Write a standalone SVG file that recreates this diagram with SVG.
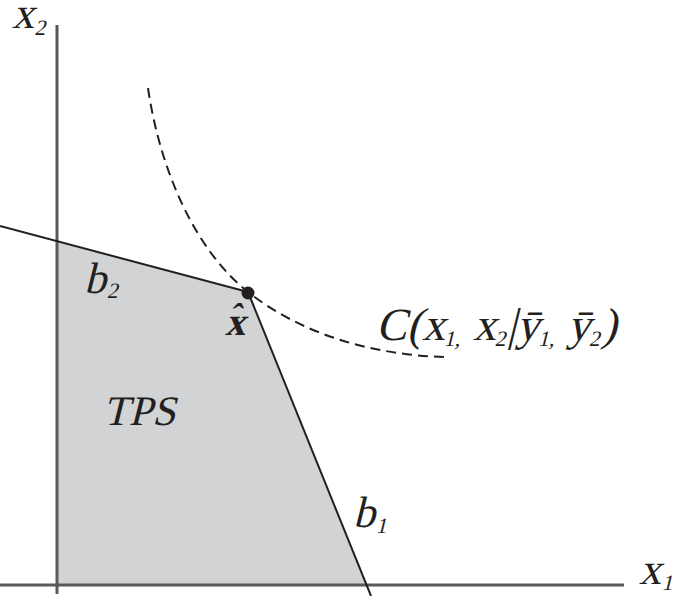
<svg xmlns="http://www.w3.org/2000/svg" width="674" height="596" viewBox="0 0 674 596">
<style>
.t{font-family:"Liberation Serif","Times New Roman",serif;fill:#231f20}
.m{font-size:44px}
.s{font-size:22px}
.axis{stroke:#58595b;stroke-width:3;fill:none}
.bnd{stroke:#231f20;stroke-width:2;fill:none}
</style>
<rect width="674" height="596" fill="#fff"/>
<g id="tps">
<polygon points="57,241 248,292 366,585 57,585" fill="#d1d3d4"/>
</g>
<g id="connectors">
<line class="axis" x1="57" y1="25" x2="57" y2="594"/>
<line class="axis" x1="0" y1="585" x2="624" y2="585"/>
<line class="bnd" x1="0" y1="226" x2="248" y2="292"/>
<line class="bnd" x1="248" y1="292" x2="371" y2="596"/>
<path d="M148,88 C160,170 195,250 248,292 C300,333 370,355 445,357" fill="none" stroke="#231f20" stroke-width="2" stroke-dasharray="10,6"/>
</g>
<g id="xhat">
<circle cx="248" cy="293" r="6.5" fill="#231f20"/>
<text class="t" transform="translate(225,335) skewX(-14)" font-size="40" font-weight="bold">x</text>
<text class="t" transform="translate(228,327) skewX(-14)" font-size="34" font-weight="bold">ˆ</text>
</g>
<g id="labels">
<text class="t m" transform="translate(12,28) skewX(-14)">x<tspan class="s" dx="2" dy="7">2</tspan></text>
<text class="t m" transform="translate(639,584) skewX(-14)">x<tspan class="s" dx="2" dy="6">1</tspan></text>
<text class="t m" transform="translate(84,293) skewX(-14)">b<tspan class="s" dx="2" dy="5">2</tspan></text>
<text class="t m" transform="translate(353,527) skewX(-14)">b<tspan class="s" dx="2" dy="6">1</tspan></text>
<text class="t" transform="translate(103,425) skewX(-14)" font-size="42">TPS</text>
<text class="t" transform="translate(376,340) skewX(-14)" font-size="46">C(x<tspan class="s" dy="6">1,</tspan><tspan dy="-6"> x</tspan><tspan class="s" dy="6">2</tspan><tspan dy="-6">|ȳ</tspan><tspan class="s" dy="6">1,</tspan><tspan dy="-6"> ȳ</tspan><tspan class="s" dy="6">2</tspan><tspan dy="-6">)</tspan></text>
</g>
</svg>
